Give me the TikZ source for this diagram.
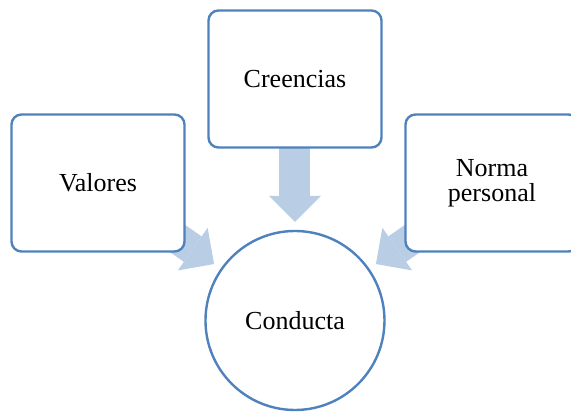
\documentclass[tikz,border=0pt]{standalone}
\usepackage{fontspec}
\setmainfont{Liberation Serif}
\newfontfamily\boxfont{Liberation Serif}
\usetikzlibrary{arrows.meta,backgrounds,calc}
\definecolor{boxline}{RGB}{79,129,189}
\definecolor{arrowfill}{RGB}{185,205,229}
\tikzset{
	item/.style={
		% The shape:
		shape=rectangle,rounded corners=10pt,
		% The size:
		minimum width=173pt,minimum height=137pt,
		% The border:
		line width=2.4pt,
		draw=boxline,
		% The filling:
		fill=white,
		% The text:
		font=\boxfont\fontsize{26}{25}\selectfont,align=center,
	}}
\tikzset{
	result/.style={
		% The shape:
		shape=circle,
		% The size:
		minimum size=179pt,
		% The border:
		line width=2.4pt,
		draw=boxline,
		% The filling:
		fill=white,
		% The text:
		font=\boxfont\fontsize{26}{25}\selectfont,
	}}
\tikzset{
	push/.style={
		draw=arrowfill,line width=31pt,
		-{Triangle[width=52pt,length=26pt,line width=0pt]},
		shorten >=8pt,
	}}

\begin{document}
\begin{tikzpicture}
				\matrix (tree) [column sep=18.6pt,row sep=0pt,ampersand replacement=\&]{
					\&  \node[item] (cre) {Creencias}; \& \\[-35.4pt]
					\node[item] (val) {Valores};  \&  \&  \node[item] (nor) {Norma\\personal}; \\[-22.9pt]
					\&  \node[result] (con) {Conducta}; \& \\
				};
				\begin{scope}[on background layer]
				\draw[push] (cre.center) -- (con);
				\draw[push] (val.center) -- (con);
				\draw[push] (nor.center) -- (con);
				\end{scope}
				\pgfresetboundingbox
				\useasboundingbox ($(con.center)+(-295pt,-93.5pt)$) rectangle +(571pt,414pt);
				\end{tikzpicture}
\end{document}
